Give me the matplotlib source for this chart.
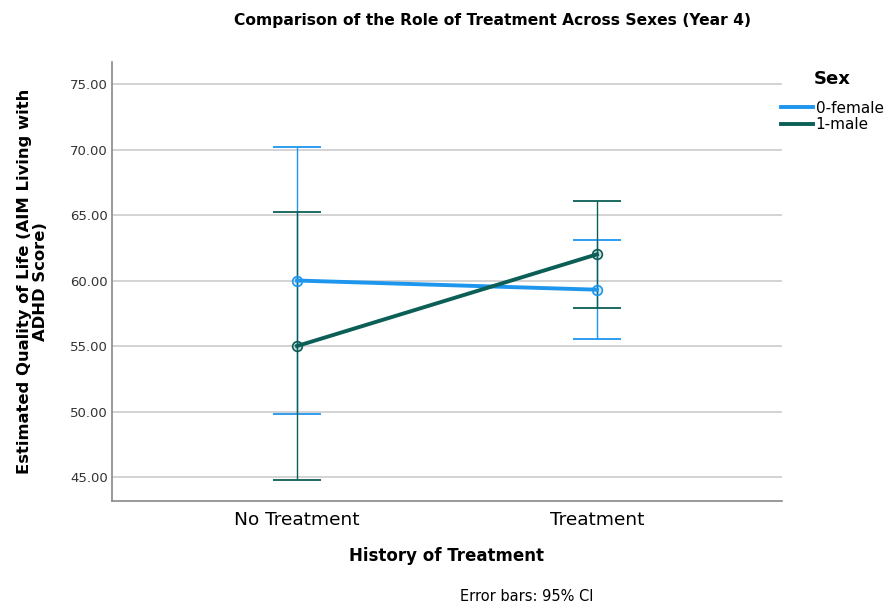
import matplotlib.pyplot as plt
import numpy as np

# estimated marginal means with 95% CI, by sex and treatment history
groups = ['No Treatment', 'Treatment']
sexes = ['0-female', '1-male']
means = {'0-female': [60.0, 59.3], '1-male': [55.0, 62.0]}
ci_low = {'0-female': [49.8, 55.55], '1-male': [44.8, 57.9]}
ci_high = {'0-female': [70.2, 63.1], '1-male': [65.2, 66.1]}
colors = {'0-female': '#1e96ee', '1-male': '#0b5f57'}
yticks = [45, 50, 55, 60, 65, 70, 75]

fig = plt.figure(figsize=(8.94, 6.09), dpi=100)
ax = fig.add_axes([0.1253, 0.1773, 0.7494, 0.7209])

x = np.arange(len(groups))
handles = []
for s in sexes:
	m = np.array(means[s])
	lo = m - np.array(ci_low[s])
	hi = np.array(ci_high[s]) - m
	ax.errorbar(x, m, yerr=[lo, hi], fmt='none', ecolor=colors[s],
				elinewidth=1.0, capsize=17, capthick=1.3, zorder=3)
	h, = ax.plot(x, m, color=colors[s], lw=2.8, marker='o', ms=7,
				 mfc=colors[s] + '30', mec=colors[s], mew=1.2, zorder=4)
	handles.append(h)

ax.set_xlim(-0.617, 1.617)
ax.set_ylim(43.17, 76.68)
ax.set_xticks(x)
ax.set_xticklabels(groups, fontsize=13.3)
ax.set_yticks(yticks)
ax.set_yticklabels(['%.2f' % v for v in yticks], fontsize=9.5, color='#333333')
ax.tick_params(axis='both', length=0, pad=3)
ax.tick_params(axis='x', pad=7)
ax.yaxis.grid(color='#d0d0d0', linewidth=1.3)
ax.set_axisbelow(True)
for side in ['top', 'right']:
	ax.spines[side].set_visible(False)
for side in ['left', 'bottom']:
	ax.spines[side].set_color('#888888')
	ax.spines[side].set_linewidth(1.2)

ax.set_xlabel('History of Treatment', fontsize=12, fontweight='bold', labelpad=13)
ax.set_ylabel('Estimated Quality of Life (AIM Living with\nADHD Score)',
			  fontsize=11.8, fontweight='bold', labelpad=16, linespacing=1.1)

fig.text(0.551, 0.967, 'Comparison of the Role of Treatment Across Sexes (Year 4)',
		 ha='center', va='center', fontsize=11.2, fontweight='bold')
fig.text(0.589, 0.02, 'Error bars: 95% CI', ha='center', va='center', fontsize=10.5)

leg = fig.legend(handles, sexes, title='Sex', loc='upper left',
				 bbox_to_anchor=(0.874, 0.885), frameon=False, fontsize=11,
				 handlelength=2.1, handletextpad=0.15, labelspacing=0.1,
				 borderaxespad=0, borderpad=0)
leg.get_title().set_fontweight('bold')
leg.get_title().set_fontsize(13)
leg._legend_box.sep = 9
for line in leg.get_lines():
	line.set_marker('')
	line.set_linewidth(2.8)

fig.savefig('out.png', dpi=100)
